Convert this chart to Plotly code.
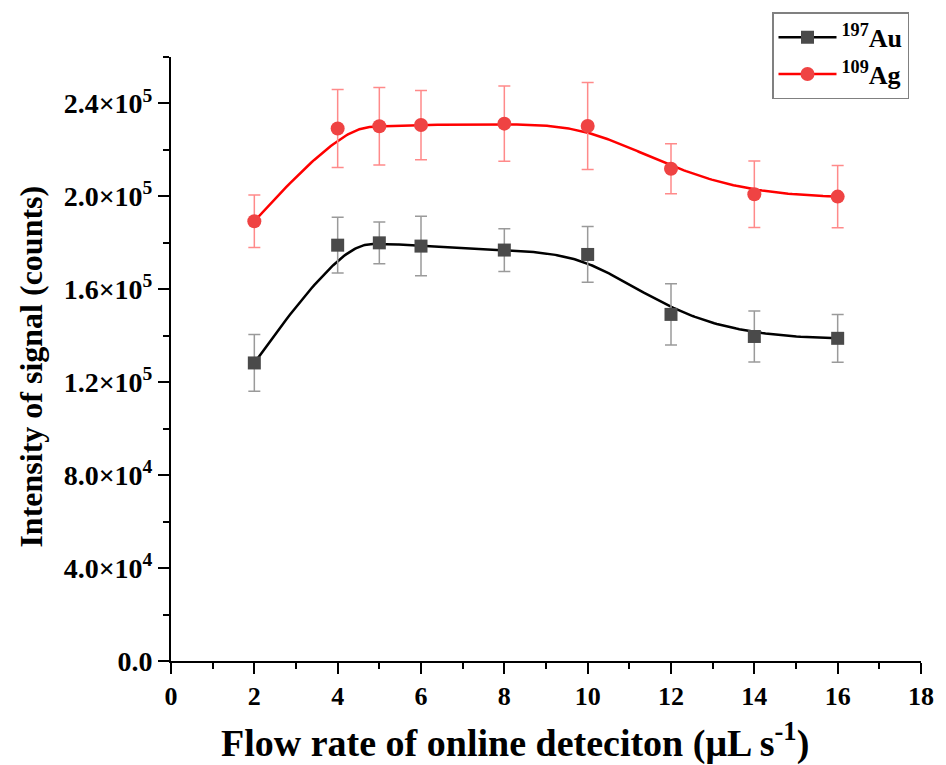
import numpy as np
import plotly.graph_objects as go

# ---- data ----
flow_rate = [2, 4, 5, 6, 8, 10, 12, 14, 16]
au_signal = [128300, 179000, 180000, 178600, 176900, 175000, 149200, 139700, 138900]
au_error = [12200, 12000, 9000, 12800, 9200, 12000, 13200, 11000, 10300]
ag_signal = [189300, 229200, 230200, 230700, 231300, 230300, 211900, 200900, 199900]
ag_error = [11300, 16800, 16700, 14900, 16200, 18700, 10800, 14300, 13400]

y_tickvals = [0, 40000, 80000, 120000, 160000, 200000, 240000]
y_ticktext = ["0.0", "4.0×10<sup>4</sup>", "8.0×10<sup>4</sup>", "1.2×10<sup>5</sup>",
              "1.6×10<sup>5</sup>", "2.0×10<sup>5</sup>", "2.4×10<sup>5</sup>"]
x_tickvals = list(range(0, 19, 2))


def bspline(xs, ys, n=300, k=3):
    """Clamped uniform cubic B-spline using the data points as control points."""
    P = np.column_stack([xs, ys]).astype(float)
    m = len(P)
    inner = np.arange(1, m - k)
    t = np.concatenate([np.zeros(k + 1), inner, np.full(k + 1, m - k)]).astype(float)
    u = np.linspace(0, m - k, n)
    u[-1] -= 1e-9

    def N(i, p, uu):
        if p == 0:
            return np.where((t[i] <= uu) & (uu < t[i + 1]), 1.0, 0.0)
        a = 0.0
        b = 0.0
        d1 = t[i + p] - t[i]
        d2 = t[i + p + 1] - t[i + 1]
        if d1 > 0:
            a = (uu - t[i]) / d1 * N(i, p - 1, uu)
        if d2 > 0:
            b = (t[i + p + 1] - uu) / d2 * N(i + 1, p - 1, uu)
        return a + b

    B = np.array([N(i, k, u) for i in range(m)])
    C = B.T @ P
    return C[:, 0], C[:, 1]


FONT = "Liberation Serif"
au_line = "#000000"
au_marker = "#4a4a4a"
au_err = "#9a9a9a"
ag_line = "#ff0000"
ag_marker = "#ef4343"
ag_err = "#ff8a8a"

fig = go.Figure()

ax, ay = bspline(flow_rate, au_signal)
gx, gy = bspline(flow_rate, ag_signal)

fig.add_trace(go.Scatter(x=ax, y=ay, mode="lines", line=dict(color=au_line, width=2.5),
                         showlegend=False, hoverinfo="skip"))
fig.add_trace(go.Scatter(x=gx, y=gy, mode="lines", line=dict(color=ag_line, width=2.5),
                         showlegend=False, hoverinfo="skip"))

fig.add_trace(go.Scatter(
    x=flow_rate, y=au_signal, mode="markers", showlegend=False,
    marker=dict(symbol="square", size=13, color=au_marker),
    error_y=dict(type="data", array=au_error, visible=True, color=au_err, thickness=1.5, width=6)))
fig.add_trace(go.Scatter(
    x=flow_rate, y=ag_signal, mode="markers", showlegend=False,
    marker=dict(symbol="circle", size=14, color=ag_marker),
    error_y=dict(type="data", array=ag_error, visible=True, color=ag_err, thickness=1.5, width=6)))

# legend entries
fig.add_trace(go.Scatter(x=[None], y=[None], mode="lines+markers", name="<sup>197</sup>Au",
                         line=dict(color=au_line, width=2.5),
                         marker=dict(symbol="square", size=13, color=au_marker)))
fig.add_trace(go.Scatter(x=[None], y=[None], mode="lines+markers", name="<sup>109</sup>Ag",
                         line=dict(color=ag_line, width=2.5),
                         marker=dict(symbol="circle", size=14, color=ag_marker)))

axis_common = dict(showline=True, linecolor="black", linewidth=2, ticks="outside",
                   ticklen=11, tickwidth=2, tickcolor="black", showgrid=False, zeroline=False,
                   mirror=False)

fig.update_xaxes(range=[0, 18], tickmode="array", tickvals=x_tickvals,
                 tickfont=dict(family=FONT, size=26, color="black", weight="bold"),
                 minor=dict(tickmode="linear", tick0=0, dtick=1, ticklen=6, tickwidth=2,
                            tickcolor="black", ticks="outside"),
                 **axis_common)
fig.update_yaxes(range=[0, 260000], tickmode="array", tickvals=y_tickvals, ticktext=y_ticktext,
                 tickfont=dict(family=FONT, size=28, color="black", weight="bold"),
                 minor=dict(tickmode="linear", tick0=0, dtick=20000, ticklen=6, tickwidth=2,
                            tickcolor="black", ticks="outside"),
                 **axis_common)

fig.update_layout(
    width=946, height=765,
    margin=dict(l=171, r=20, t=53, b=104),
    plot_bgcolor="white", paper_bgcolor="white",
    font=dict(family=FONT, color="black"),
    showlegend=True,
    legend=dict(x=0.984, y=1.074, xanchor="right", yanchor="top",
                bordercolor="#808080", borderwidth=1.5, bgcolor="white",
                font=dict(family=FONT, size=26, color="black", weight="bold"),
                itemwidth=58, tracegroupgap=0),
    annotations=[
        dict(text="Intensity of signal (counts)", xref="paper", yref="paper",
             x=-0.187, y=0.487, xanchor="center", yanchor="middle", textangle=-90,
             showarrow=False, font=dict(family=FONT, size=32, color="black", weight="bold")),
        dict(text="Flow rate of online deteciton (μL s<sup>-1</sup>)", xref="paper", yref="paper",
             x=0.458, y=-0.132, xanchor="center", yanchor="middle",
             showarrow=False, font=dict(family=FONT, size=38, color="black", weight="bold")),
    ],
)

fig.write_html("out.html", config={"displayModeBar": False},
               post_script="document.body.style.margin='0';")
